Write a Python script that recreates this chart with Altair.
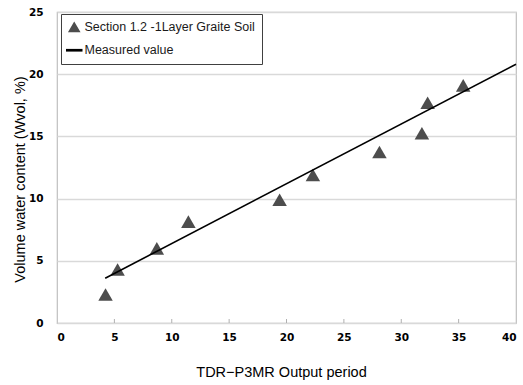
import altair as alt
import pandas as pd

# Data
pt_x = [4.23, 5.28, 8.7, 11.45, 19.4, 22.3, 28.1, 31.8, 32.3, 35.4]
pt_y = [2.29, 4.3, 6.0, 8.15, 9.9, 11.9, 13.75, 15.25, 17.7, 19.1]
line_x = [4.2, 40.0]
line_y = [3.6, 20.8]
x_ticks = [0, 5, 10, 15, 20, 25, 30, 35, 40]
y_ticks = [0, 5, 10, 15, 20, 25]
series_names = ["Section 1.2 -1Layer Graite Soil", "Measured value"]

pts = pd.DataFrame({"x": pt_x, "y": pt_y, "series": series_names[0]})
ln = pd.DataFrame({"x": line_x, "y": line_y, "series": series_names[1]})
tk = pd.DataFrame({"x": x_ticks[1:-1]})

W, H = 459, 311

xscale = alt.Scale(domain=[0, 40], nice=False)
yscale = alt.Scale(domain=[0, 25], nice=False)

color = alt.Color(
    "series:N",
    scale=alt.Scale(domain=series_names, range=["#4d4d4d", "#000000"]),
    legend=alt.Legend(
        title=None,
        orient="none",
        legendX=4,
        legendY=2,
        strokeColor="#404040",
        fillColor="white",
        padding=7,
        rowPadding=9,
        labelFont="Liberation Sans",
        labelFontSize=12.5,
        labelColor="#1a1a1a",
        labelLimit=400,
        symbolSize=100,
        labelOffset=4,
    ),
)
shape = alt.Shape(
    "series:N",
    scale=alt.Scale(
        domain=series_names,
        range=["triangle-up", "M-1.5,-0.12L1.5,-0.12L1.5,0.12L-1.5,0.12Z"],
    ),
    legend=alt.Legend(title=None),
)

xaxis = alt.Axis(
    values=x_ticks,
    grid=False,
    domain=False,
    ticks=False,
    labelFont="DejaVu Sans",
    labelFontWeight="bold",
    labelFontSize=10.5,
    labelColor="#000000",
    labelPadding=9,
    title="TDR−P3MR Output period",
    titleFont="Liberation Sans",
    titleFontWeight="normal",
    titleFontSize=14.5,
    titleColor="#000000",
    titleX=224,
    titleY=53,
    titleAnchor="middle",
    titleAlign="center",
    titleBaseline="alphabetic",
)
yaxis = alt.Axis(
    values=y_ticks,
    grid=True,
    gridColor="#d9d9d9",
    gridWidth=1.5,
    domain=False,
    ticks=False,
    labelFont="DejaVu Sans",
    labelFontWeight="bold",
    labelFontSize=10.5,
    labelColor="#000000",
    labelPadding=14,
    title="Volume water content (Wvol, %)",
    titleFont="Liberation Sans",
    titleFontWeight="normal",
    titleFontSize=14.5,
    titleColor="#000000",
    titleX=-37,
    titleY=167,
    titleAngle=270,
    titleAlign="center",
    titleBaseline="middle",
)

ticks = alt.Chart(tk).mark_rule(color="#b0b0b0", strokeWidth=1).encode(
    x=alt.X("x:Q", scale=xscale, axis=xaxis),
    y=alt.value(H - 4),
    y2=alt.value(H),
)

points = alt.Chart(pts).mark_point(filled=True, size=210, opacity=1).encode(
    x=alt.X("x:Q", scale=xscale, axis=xaxis),
    y=alt.Y("y:Q", scale=yscale, axis=yaxis),
    color=color,
    shape=shape,
)

line = alt.Chart(ln).mark_line(strokeWidth=1.6).encode(
    x=alt.X("x:Q", scale=xscale),
    y=alt.Y("y:Q", scale=yscale),
    color=color,
)

chart = alt.layer(ticks, points, line).properties(
    width=W,
    height=H,
    padding={"left": 57, "top": 12, "right": 7, "bottom": 62},
    autosize=alt.AutoSizeParams(type="none"),
    background="white",
).configure_view(
    stroke="#bfbfbf", strokeWidth=1.2
)

chart.save("out.html", embed_options={"renderer": "svg", "actions": False})
